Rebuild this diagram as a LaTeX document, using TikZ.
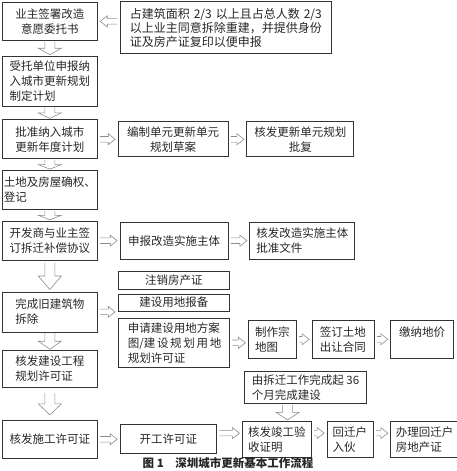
\documentclass[tikz,border=0pt]{standalone}
\usepackage{fontspec}
\setmainfont{Noto Sans CJK SC}
\usetikzlibrary{positioning,calc}

\begin{document}
\begin{tikzpicture}[x=1pt, y=-1pt, node distance=15pt,
    box/.style={draw=black!80, line width=0.7pt, text=black!85, inner sep=1.5pt,
      minimum height=38pt, font=\fontsize{11.5}{15}\selectfont},
    lbox/.style={box, minimum width=95pt},
    bbox/.style={box, line width=1.2pt},
    hollow/.style n args={4}{to path={
      ($(\tikztostart)!#4!(\tikztotarget)$) coordinate (aS)
      ($(\tikztotarget)!#4!(\tikztostart)$) coordinate (aT)
      ($(aT)!#3!(aS)$) coordinate (aH)
      ($(aS)!#1!90:(aT)$) -- ($(aH)!#1!90:(aT)$) -- ($(aH)!#2!90:(aT)$) -- (aT)
      -- ($(aH)!#2!-90:(aT)$) -- ($(aH)!#1!-90:(aT)$) -- ($(aS)!#1!-90:(aT)$)}},
    downarr/.style={draw=black!45, line width=0.6pt, hollow={5pt}{11.5pt}{0.5}{#1}},
    downarr/.default=1pt,
    rightarr/.style={draw=black!45, line width=0.6pt, hollow={2.8pt}{5.5pt}{7pt}{2.5pt}}]
\useasboundingbox (0,0) rectangle (456,471);

\node[lbox, align=center, anchor=north west] (b1) at (2,2) {业主签署改造\\意愿委托书};
\node[lbox, align=left, minimum height=50pt, below=15pt of b1] (b2) {受托单位申报纳\\入城市更新规划\\制定计划};
\node[lbox, align=center, minimum height=39pt, below=13pt of b2] (b3) {批准纳入城市\\更新年度计划};
\node[lbox, align=left, minimum height=39pt, below=11pt of b3] (b4) {土地及房屋确权、\\登记};
\node[lbox, align=left, minimum height=39pt, below=11pt of b4] (b5) {开发商与业主签\\订拆迁补偿协议};
\node[lbox, align=left, minimum height=40pt, below=31pt of b5] (b6) {完成旧建筑物\\拆除};
\node[lbox, align=left, minimum height=37pt, below=18pt of b6] (b7) {核发建设工程\\规划许可证};
\node[lbox, minimum height=38pt, below=32pt of b7] (b8) {核发施工许可证};

\node[bbox, align=left, minimum width=211pt, minimum height=52pt, font=\fontsize{12}{14}\selectfont,
  below right=-1pt and 22pt of b1.north east] (r1)
  {\makebox[192pt][s]{占建筑面积 2/3 以上且占总人数 2/3}\\以上业主同意拆除重建，并提供身份\\证及房产证复印以便申报};

\node[box, align=center, minimum width=110pt, minimum height=35pt, right=20pt of b3] (r3a) {编制单元更新单元\\规划草案};
\node[box, align=center, minimum width=107pt, minimum height=35pt, right=18pt of r3a] (r3b) {核发更新单元规划\\批复};
\node[box, minimum width=108pt, minimum height=37pt, right=22pt of b5] (r5a) {申报改造实施主体};
\node[box, align=left, minimum width=105pt, minimum height=37pt, right=21pt of r5a] (r5b) {核发改造实施主体\\批准文件};

\node[bbox, minimum width=111pt, minimum height=17pt, below right=2pt and 20pt of b6.north east] (c2) {建设用地报备};
\node[box, minimum width=111pt, minimum height=18pt, above=4pt of c2] (c1) {注销房产证};
\node[bbox, align=left, minimum width=111pt, minimum height=49pt, below=6pt of c2] (c3)
  {申请建设用地方案\\\makebox[8em][s]{图/建 设 规 划 用 地}\\规划许可证};

\node[box, align=left, minimum width=48pt, right=18pt of c3, yshift=3.5pt] (d1) {制作宗\\地图};
\node[box, align=left, minimum width=62pt, right=15pt of d1] (d2) {签订土地\\出让合同};
\node[box, align=left, minimum width=63pt, right=16pt of d2] (d3) {缴纳地价\\~};
\node[bbox, align=left, minimum width=122pt, minimum height=32pt, below right=12pt and -4pt of d1.south west] (e1)
  {由拆迁工作完成起 36\\个月完成建设};

\node[bbox, minimum width=96pt, minimum height=29pt, right=22pt of b8] (f0) {开工许可证};
\node[box, align=left, minimum width=69pt, minimum height=36pt, right=25pt of f0] (f1) {核发竣工验\\收证明};
\node[box, align=left, minimum width=46pt, minimum height=36pt, right=15pt of f1] (f2) {回迁户\\入伙};
\node[box, align=left, minimum width=68pt, minimum height=36pt, right=17pt of f2] (f3) {办理回迁户\\房地产证};

\node[font=\bfseries\fontsize{11.5}{13}\selectfont, text=black!85] (cap) at (228,463) {图 1\quad 深圳城市更新基本工作流程};

\coordinate (e1s) at ($(e1.south west)!.355!(e1.south east)$);

\draw[downarr] (b1.south) to (b2.north);
\draw[downarr] (b2.south) to (b3.north);
\draw[downarr] (b3.south) to (b4.north);
\draw[downarr] (b4.south) to (b5.north);
\draw[downarr=2pt] (b5.south) to (b6.north);
\draw[downarr] (b6.south) to (b7.north);
\draw[downarr=5pt] (b7.south) to (b8.north);
\draw[downarr] (e1s) to (e1s |- f1.north);

\draw[rightarr] (r1.west |- b1.east) to (b1.east);
\draw[rightarr] (b3.east) to (r3a.west);
\draw[rightarr] (r3a.east) to (r3b.west);
\draw[rightarr] (b5.east) to (b5.east -| r5a.west);
\draw[rightarr] (r5a.east) to (r5b.west);
\draw[rightarr] (b6.east) to (b6.east -| c2.west);
\draw[rightarr] (c3.east) to (c3.east -| d1.west);
\draw[rightarr] (d1.east) to (d2.west);
\draw[rightarr] (d2.east) to (d3.west);
\draw[rightarr] (b8.east) to (b8.east -| f0.west);
\draw[rightarr] (f0.east |- f1.10) to (f1.10 -| f1.west);
\draw[rightarr] (f1.10) to (f1.10 -| f2.west);
\draw[rightarr] (f1.10 -| f2.east) to (f1.10 -| f3.west);
\end{tikzpicture}
\end{document}
